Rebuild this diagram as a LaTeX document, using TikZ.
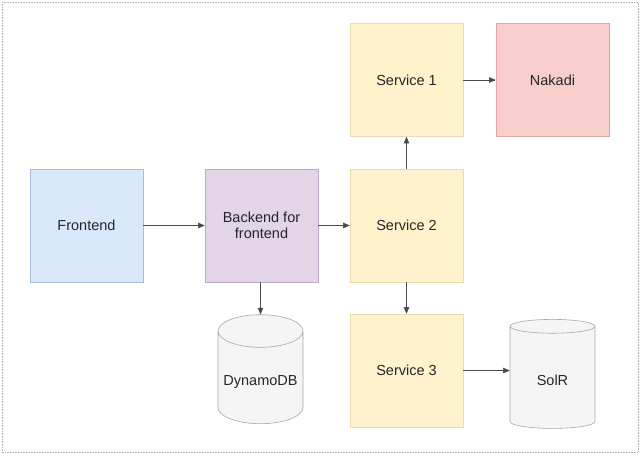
\documentclass[tikz,border=0pt]{standalone}
\usepackage{fontspec}
\setmainfont{Liberation Sans}
\usetikzlibrary{arrows}
\usetikzlibrary{shapes.geometric}

\definecolor{feFill}{HTML}{DAE8FC}
\definecolor{feLine}{HTML}{A9BEDC}
\definecolor{bffFill}{HTML}{E1D5E7}
\definecolor{bffLine}{HTML}{BFA9CB}
\definecolor{svcFill}{HTML}{FFF2CC}
\definecolor{svcLine}{HTML}{EADBB0}
\definecolor{nakFill}{HTML}{F8CECC}
\definecolor{nakLine}{HTML}{DFA9A7}
\definecolor{dbFill}{HTML}{F5F5F5}
\definecolor{dbLine}{HTML}{A8A8A8}
\definecolor{arrLine}{HTML}{4A4A4A}

\begin{document}
\begin{tikzpicture}[x=1pt, y=-1pt,
    every node/.style={font=\fontsize{14.5}{16.5}\selectfont, text=black!85, align=center},
    block/.style={draw, line width=0.5pt, minimum width=113pt, minimum height=113pt, inner sep=0pt},
    dbase/.style={cylinder, shape border rotate=90, draw=dbLine, fill=dbFill, line width=0.6pt,
        aspect=0.44, minimum width=85pt, minimum height=109pt, inner sep=0pt,
        text height=15pt, text depth=0pt},
    link/.style={draw=arrLine, line width=0.5pt, arrows={-triangle 45}}]
                \useasboundingbox (0,0) rectangle (640,456);
                \draw[gray!60, densely dotted, line width=0.6pt] (2,2) -- (638,2) -- (638,452) -- (2,452) -- cycle;

                \node[block, fill=feFill, draw=feLine] (frontend) at (86.5,225.5) {Frontend};
                \node[block, fill=bffFill, draw=bffLine] (bff) at (261.5,225.5) {Backend for\\frontend};
                \node[block, fill=svcFill, draw=svcLine] (svc1) at (406.5,80) {Service 1};
                \node[block, fill=svcFill, draw=svcLine] (svc2) at (406.5,225.5) {Service 2};
                \node[block, fill=svcFill, draw=svcLine] (svc3) at (406.5,370.5) {Service 3};
                \node[block, fill=nakFill, draw=nakLine] (nakadi) at (552.5,80) {Nakadi};

                \node[dbase] (dynamo) at (260.5,377.5) {DynamoDB};
                \node[dbase] (solr) at (552.5,377.5) {SolR};

                \draw[link] (frontend) -- (bff);
                \draw[link] (bff) -- (svc2);
                \draw[link] (svc2) -- (svc1);
                \draw[link] (svc1) -- (nakadi);
                \draw[link] (bff.south -| dynamo.top) -- (dynamo.top);
                \draw[link] (svc2) -- (svc3);
                \draw[link] (svc3) -- (solr.west |- svc3);
\end{tikzpicture}
\end{document}
